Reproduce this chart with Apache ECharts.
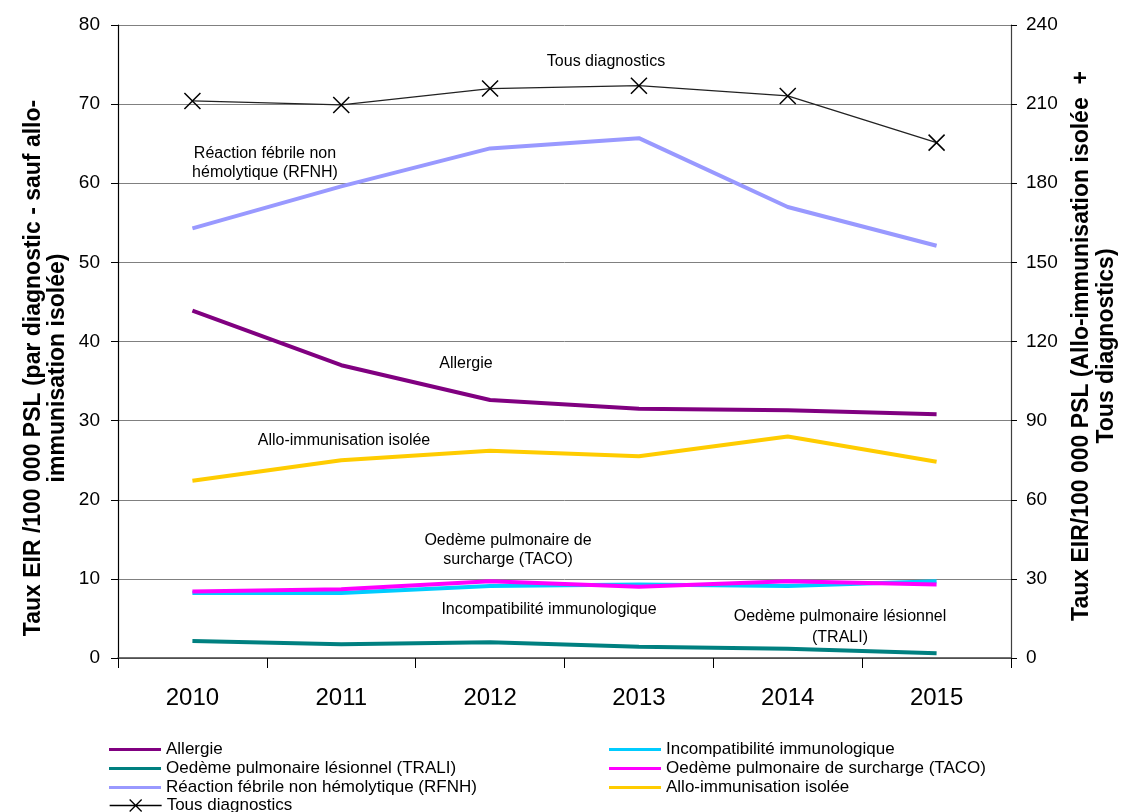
<!DOCTYPE html>
<html><head><meta charset="utf-8">
<script src="https://cdn.jsdelivr.net/npm/echarts@6/dist/echarts.min.js"></script>
<style>html,body{margin:0;padding:0;background:#fff}#c{width:1123px;height:812px}</style>
</head><body><div id="c"></div>
<script>
// ---- data ----
const years = ['2010', '2011', '2012', '2013', '2014', '2015'];
const allergie = [43.9, 37.0, 32.6, 31.5, 31.3, 30.8];
const incompat = [8.2, 8.2, 9.1, 9.3, 9.1, 9.7];
const trali = [2.15, 1.73, 1.98, 1.43, 1.18, 0.59];
const taco = [8.4, 8.7, 9.7, 9.0, 9.7, 9.3];
const rfnh = [54.3, 59.6, 64.4, 65.7, 57.0, 52.1];
const alloImmun = [67.2, 75.0, 78.6, 76.5, 84.0, 74.4];   // right axis
const tousDiag = [211.2, 209.7, 215.9, 217.0, 213.1, 195.4]; // right axis
const leftAxis = { min: 0, max: 80, interval: 10 };
const rightAxis = { min: 0, max: 240, interval: 30 };

const names = {
  allergie: 'Allergie',
  incompat: 'Incompatibilité immunologique',
  trali: 'Oedème pulmonaire lésionnel (TRALI)',
  taco: 'Oedème pulmonaire de surcharge (TACO)',
  rfnh: 'Réaction fébrile non hémolytique (RFNH)',
  allo: 'Allo-immunisation isolée',
  tous: 'Tous diagnostics'
};

const FF = '"Liberation Sans", Arial, sans-serif';
const chart = echarts.init(document.getElementById('c'), null, { renderer: 'canvas' });

function line(name, data, color, axis, width) {
  return {
    name, type: 'line', data, yAxisIndex: axis,
    symbol: 'none', lineStyle: { color, width: width || 4 },
    itemStyle: { color }, silent: true, animation: false, z: 3
  };
}

function note(text, x, y) {
  return { type: 'text', x, y, style: { text, fill: '#000', font: '16px ' + FF, align: 'center', verticalAlign: 'middle' }, z: 10 };
}
function vtitle(text, x, y) {
  return { type: 'text', x, y, rotation: Math.PI / 2, style: { text, fill: '#000', font: 'bold 23px ' + FF, align: 'center', verticalAlign: 'middle' }, z: 10 };
}

const legendText = { fontSize: 17, color: '#000', fontFamily: FF, lineHeight: 19 };

const option = {
  animation: false,
  backgroundColor: '#fff',
  grid: { left: 118, right: 112, top: 25, bottom: 154, containLabel: false },
  xAxis: {
    type: 'category', data: years, boundaryGap: true,
    axisLine: { lineStyle: { color: '#404040', width: 1.5 } },
    axisTick: { show: true, length: 10, lineStyle: { color: '#000', width: 1 } },
    axisLabel: { fontSize: 24, color: '#000', fontFamily: FF, margin: 28 },
    splitLine: { show: false }
  },
  yAxis: [
    {
      type: 'value', min: leftAxis.min, max: leftAxis.max, interval: leftAxis.interval,
      axisLine: { show: true, lineStyle: { color: '#000', width: 1.2 } },
      axisTick: { show: true, length: 7, lineStyle: { color: '#000' } },
      axisLabel: { fontSize: 19, color: '#000', fontFamily: FF, margin: 18 },
      splitLine: { show: true, lineStyle: { color: '#808080', width: 1 } }
    },
    {
      type: 'value', position: 'right', min: rightAxis.min, max: rightAxis.max, interval: rightAxis.interval,
      axisLine: { show: true, lineStyle: { color: '#404040', width: 1.2 } },
      axisTick: { show: true, length: 6, lineStyle: { color: '#000' } },
      axisLabel: { fontSize: 19, color: '#000', fontFamily: FF, margin: 15 },
      splitLine: { show: false }
    }
  ],
  legend: [
    {
      orient: 'vertical', left: 104, top: 735, itemWidth: 52, itemHeight: 3, itemGap: 0,
      icon: 'rect', textStyle: legendText, selectedMode: false,
      data: [names.allergie, names.trali, names.rfnh]
    },
    {
      orient: 'vertical', left: 104, top: 791, itemWidth: 52, itemHeight: 12, itemGap: 0,
      icon: 'path://M0,6L52,6M20,0L32,12M32,0L20,12',
      itemStyle: { color: 'transparent', borderColor: '#000', borderWidth: 1.3 },
      textStyle: legendText, selectedMode: false,
      data: [names.tous]
    },
    {
      orient: 'vertical', left: 604, top: 735, itemWidth: 52, itemHeight: 3, itemGap: 0,
      icon: 'rect', textStyle: legendText, selectedMode: false,
      data: [names.incompat, names.taco, names.allo]
    }
  ],
  series: [
    line(names.allergie, allergie, '#800080', 0),
    line(names.incompat, incompat, '#00CCFF', 0),
    line(names.trali, trali, '#008080', 0),
    line(names.taco, taco, '#FF00FF', 0),
    line(names.rfnh, rfnh, '#9999FF', 0),
    line(names.allo, alloImmun, '#FFCC00', 1),
    {
      name: names.tous, type: 'line', data: tousDiag, yAxisIndex: 1,
      symbol: 'path://M0,0L10,10M10,0L0,10', symbolSize: 16,
      lineStyle: { color: '#222', width: 1.3 },
      itemStyle: { color: '#000', borderColor: '#000', borderWidth: 1.5 },
      silent: true, z: 4
    }
  ],
  graphic: [
    note('Tous diagnostics', 606, 62),
    note('Réaction fébrile non', 265, 154),
    note('hémolytique (RFNH)', 265, 173),
    note('Allergie', 466, 364),
    note('Allo-immunisation isolée', 344, 441),
    note('Oedème pulmonaire de', 508, 541),
    note('surcharge (TACO)', 508, 560),
    note('Incompatibilité immunologique', 549, 610),
    note('Oedème pulmonaire lésionnel', 840, 617),
    note('(TRALI)', 840, 638),
    vtitle('Taux EIR /100 000 PSL (par diagnostic - sauf allo-', 34, 368),
    vtitle('immunisation isolée)', 58, 368),
    vtitle('Taux EIR/100 000 PSL (Allo-immunisation isolée  +', 1082, 346),
    vtitle('Tous diagnostics)', 1107, 346)
  ]
};
chart.setOption(option);
</script>
</body></html>
